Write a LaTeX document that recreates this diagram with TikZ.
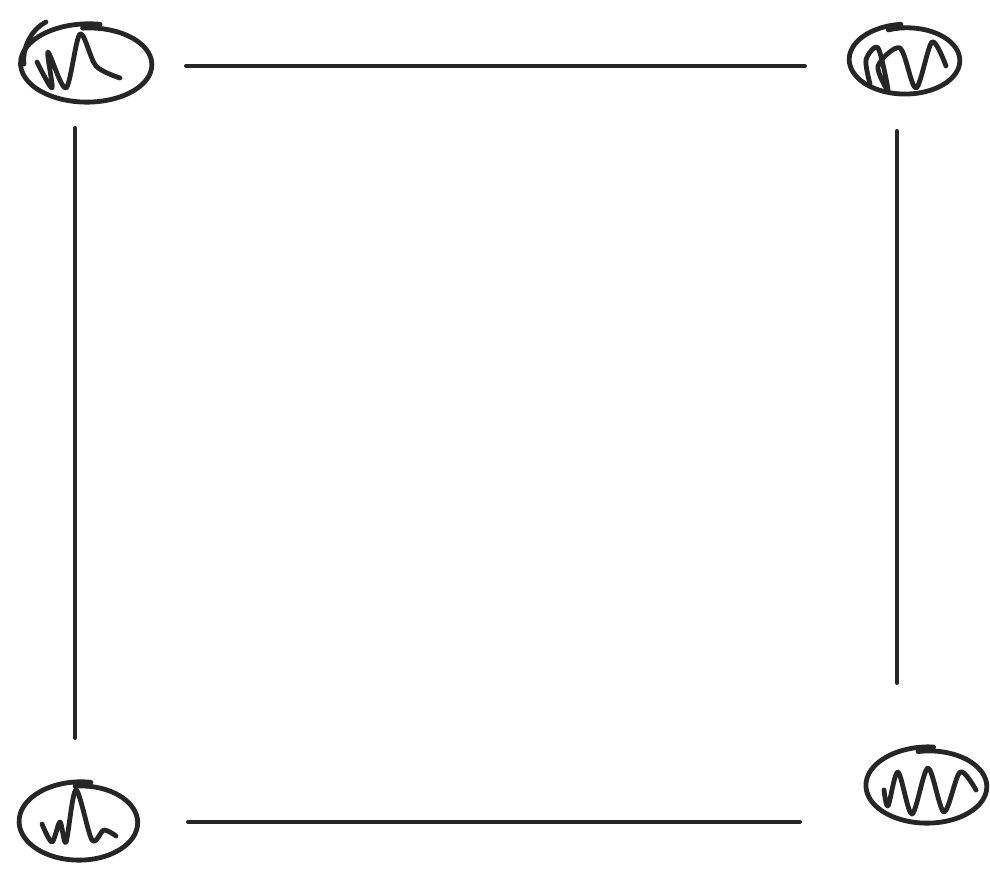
\documentclass[tikz,border=0pt]{standalone}
\usetikzlibrary{calc}
\tikzset{
  edge/.style={line width=4pt, line cap=round, color=black!85},
  scrib/.style={line width=4.8pt, line cap=round, line join=round, color=black!85},
}
\newcommand{\ring}[5]{% cx cy rx ry start
  \draw[scrib] plot[smooth, samples=60, domain=#5:#5+375]
    ({#1+#3*(1+0.12*(\x-#5)/375)*cos(\x)}, {#2+#4*(1+0.12*(\x-#5)/375)*sin(\x)});
}
\begin{document}
\begin{tikzpicture}[x=1pt,y=-1pt]
\useasboundingbox (0,0) rectangle (990,871);
% nodes (corners)
\coordinate (tl) at (86,62);
\coordinate (tr) at (906,57);
\coordinate (bl) at (80,818);
\coordinate (br) at (928,784);
% scribbled circles
\ring{88}{64}{62}{36}{-95}
\draw[scrib] (46,22) .. controls (30,30) and (22,50) .. (24,64);
\draw[scrib] plot[smooth] coordinates {(37,62) (52,88) (48,52) (66,88) (80,34) (96,66) (120,78)};

\ring{906}{60}{52}{32}{-110}
\draw[scrib] plot[smooth] coordinates {(870,84) (866,60) (878,48) (888,90) (878,66) (900,48) (916,88) (932,42) (946,66)};

\ring{80}{822}{56}{36}{-95}
\draw[scrib] plot[smooth] coordinates {(42,824) (52,842) (60,822) (66,842) (76,790) (92,840) (104,830) (116,836)};

\ring{928}{786}{57}{35}{-100}
\draw[scrib] plot[smooth] coordinates {(884,790) (888,806) (898,772) (912,814) (928,768) (944,812) (960,772) (976,790)};

% connector end points
\coordinate (t1) at (186,66);  \coordinate (t2) at (805,66);
\coordinate (l1) at (75,128);  \coordinate (l2) at (75,738);
\coordinate (r1) at (897,131); \coordinate (r2) at (897,683);
\coordinate (b1) at (188,822); \coordinate (b2) at (800,822);
\draw[edge] (t1) -- (t2);
\draw[edge] (l1) -- (l2);
\draw[edge] (r1) -- (r2);
\draw[edge] (b1) -- (b2);
\end{tikzpicture}
\end{document}
